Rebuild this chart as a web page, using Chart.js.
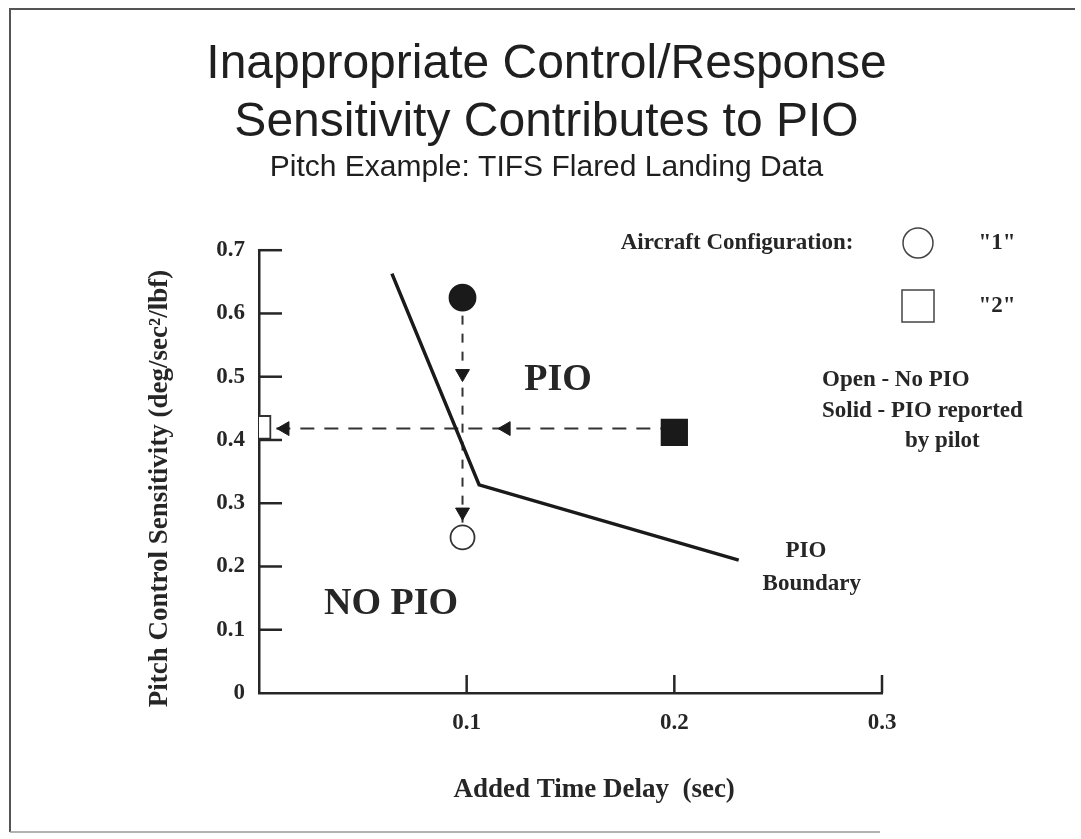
<!DOCTYPE html>
<html>
<head>
<meta charset="utf-8">
<script src="https://cdn.jsdelivr.net/npm/chart.js@4.4.0/dist/chart.umd.min.js"></script>
<style>
  html, body { margin: 0; padding: 0; background: #fff; }
  canvas { display: block; }
</style>
</head>
<body>
<canvas id="chart" width="1081" height="839"></canvas>
<script>
// PIO boundary line
var boundaryX = [0.064, 0.106, 0.231];
var boundaryY = [0.663, 0.329, 0.21];

// configuration "1" (circles): solid = PIO, open = no PIO
var config1X = [0.098, 0.098];
var config1Y = [0.625, 0.246];
// configuration "2" (squares)
var config2X = [0.2, 0.0];
var config2Y = [0.412, 0.42];

// arrows along the dashed paths
var arrowDownX = [0.098, 0.098];
var arrowDownY = [0.505, 0.286];
var arrowLeftX = [0.119, 0.0125];
var arrowLeftY = [0.418, 0.418];
var pathH_X = [0.2, 0.0];
var pathH_Y = [0.418, 0.418];

var xTickValues = [0.1, 0.2, 0.3];
var xTickLabels = ["0.1", "0.2", "0.3"];
var yTickValues = [0, 0.1, 0.2, 0.3, 0.4, 0.5, 0.6, 0.7];
var yTickLabels = ["0", "0.1", "0.2", "0.3", "0.4", "0.5", "0.6", "0.7"];

var serif = '"Liberation Serif", "Times New Roman", serif';
var sans = '"Liberation Sans", Arial, sans-serif';
var ink = "#262626";

function toPoints(xs, ys) {
  return xs.map(function(x, i) { return { x: x, y: ys[i] }; });
}

// frame round the slide
var framePlugin = {
  id: "frame",
  beforeDraw: function(chart) {
    var c = chart.ctx;
    c.save();
    c.fillStyle = "#fff";
    c.fillRect(0, 0, chart.width, chart.height);
    c.strokeStyle = "#555";
    c.lineWidth = 2;
    c.beginPath();
    c.moveTo(10, 832);
    c.lineTo(10, 9);
    c.lineTo(1075, 9);
    c.stroke();
    c.strokeStyle = "#999";
    c.lineWidth = 1.5;
    c.beginPath();
    c.moveTo(10, 832);
    c.lineTo(880, 832);
    c.stroke();
    c.restore();
  }
};

// tick marks pointing into the plot
var inwardTicks = {
  id: "inwardTicks",
  afterDatasetsDraw: function(chart) {
    var c = chart.ctx, xs = chart.scales.x, ys = chart.scales.y;
    c.save();
    c.strokeStyle = ink;
    c.lineWidth = 2.5;
    xTickValues.forEach(function(v) {
      var px = xs.getPixelForValue(v);
      c.beginPath();
      c.moveTo(px, ys.bottom);
      c.lineTo(px, ys.bottom - 18);
      c.stroke();
    });
    yTickValues.forEach(function(v) {
      if (v === 0) return;
      var py = ys.getPixelForValue(v);
      c.beginPath();
      c.moveTo(xs.left, py);
      c.lineTo(xs.left + 23, py);
      c.stroke();
    });
    c.restore();
  }
};

// region labels and the key on the right
var notes = {
  id: "notes",
  afterDraw: function(chart) {
    var c = chart.ctx, xs = chart.scales.x, ys = chart.scales.y;
    c.save();
    c.fillStyle = ink;
    c.textAlign = "center";
    c.textBaseline = "middle";
    var inPlot = [
      { text: "PIO", x: 0.144, y: 0.494, size: 38 },
      { text: "NO PIO", x: 0.0636, y: 0.141, size: 38 },
      { text: "PIO", x: 0.2634, y: 0.224, size: 23 },
      { text: "Boundary", x: 0.2662, y: 0.172, size: 23 }
    ];
    inPlot.forEach(function(a) {
      c.font = "bold " + a.size + "px " + serif;
      c.fillText(a.text, xs.getPixelForValue(a.x), ys.getPixelForValue(a.y));
    });

    c.font = "bold 23px " + serif;
    c.fillText("Aircraft Configuration:", 737, 243);
    c.fillText('"1"', 997, 243);
    c.fillText('"2"', 997, 306);
    c.textAlign = "left";
    c.fillText("Open - No PIO", 822, 380);
    c.fillText("Solid - PIO reported", 822, 411);
    c.fillText("by pilot", 905, 441);

    c.strokeStyle = "#444";
    c.lineWidth = 1.5;
    c.beginPath();
    c.arc(918, 243, 15, 0, Math.PI * 2);
    c.stroke();
    c.strokeRect(902, 290, 32, 32);
    c.restore();
  }
};

var myChartConfig = {
  type: "scatter",
  data: {
    datasets: [
      {
        label: "Config 1",
        data: toPoints(config1X, config1Y),
        pointStyle: "circle",
        pointRadius: [13, 12],
        backgroundColor: ["#1a1a1a", "#ffffff"],
        borderColor: ["#1a1a1a", "#333333"],
        borderWidth: 1.8,
        order: 0
      },
      {
        label: "Config 2",
        data: toPoints(config2X, config2Y),
        pointStyle: "rect",
        pointRadius: [18, 16],
        backgroundColor: ["#1a1a1a", "#ffffff"],
        borderColor: ["#1a1a1a", "#333333"],
        borderWidth: 1.8,
        clip: 0,
        order: 0
      },
      {
        label: "Arrow down",
        data: toPoints(arrowDownX, arrowDownY),
        pointStyle: "triangle",
        rotation: 180,
        pointRadius: 8,
        backgroundColor: "#1a1a1a",
        borderColor: "#1a1a1a",
        borderWidth: 1,
        order: 1
      },
      {
        label: "Arrow left",
        data: toPoints(arrowLeftX, arrowLeftY),
        pointStyle: "triangle",
        rotation: 270,
        pointRadius: 8,
        backgroundColor: "#1a1a1a",
        borderColor: "#1a1a1a",
        borderWidth: 1,
        order: 1
      },
      {
        label: "PIO Boundary",
        data: toPoints(boundaryX, boundaryY),
        showLine: true,
        borderColor: "#1a1a1a",
        borderWidth: 3.5,
        pointRadius: 0,
        order: 2
      },
      {
        label: "Config 1 path",
        data: toPoints(config1X, config1Y),
        showLine: true,
        borderColor: "#333",
        borderWidth: 2,
        borderDash: [9, 9],
        pointRadius: 0,
        order: 3
      },
      {
        label: "Config 2 path",
        data: toPoints(pathH_X, pathH_Y),
        showLine: true,
        borderColor: "#333",
        borderWidth: 2,
        borderDash: [14, 10],
        pointRadius: 0,
        order: 3
      }
    ]
  },
  options: {
    responsive: false,
    animation: false,
    events: [],
    layout: { padding: { left: 12, right: 0, top: 0, bottom: 30 } },
    plugins: {
      legend: { display: false },
      tooltip: { enabled: false },
      title: {
        display: true,
        text: ["Inappropriate Control/Response", "Sensitivity Contributes to PIO"],
        color: "#1f1f1f",
        font: { family: sans, size: 48, weight: "normal", lineHeight: 1.2 },
        padding: { top: 36, bottom: 0 }
      },
      subtitle: {
        display: true,
        text: "Pitch Example: TIFS Flared Landing Data",
        color: "#1f1f1f",
        font: { family: sans, size: 30, weight: "normal", lineHeight: 1.1 },
        padding: { top: 0, bottom: 66 }
      }
    },
    scales: {
      x: {
        type: "linear",
        min: 0,
        max: 0.3,
        afterBuildTicks: function(scale) {
          scale.ticks = xTickValues.map(function(v) { return { value: v }; });
        },
        afterFit: function(scale) { scale.height = 116; },
        ticks: {
          color: ink,
          font: { family: serif, size: 23, weight: "bold" },
          padding: 16,
          maxRotation: 0,
          callback: function(v) { return xTickLabels[xTickValues.indexOf(v)]; }
        },
        grid: { display: false, drawTicks: false, tickLength: 0 },
        border: { display: true, color: ink, width: 2.5 },
        title: {
          display: true,
          text: "       Added Time Delay  (sec)",
          color: ink,
          font: { family: serif, size: 27, weight: "bold", lineHeight: 1.2 },
          padding: { top: 0, bottom: 3 }
        }
      },
      y: {
        type: "linear",
        min: 0,
        max: 0.7,
        afterBuildTicks: function(scale) {
          scale.ticks = yTickValues.map(function(v) { return { value: v }; });
        },
        afterFit: function(scale) { scale.width = 247; },
        ticks: {
          color: ink,
          font: { family: serif, size: 23, weight: "bold" },
          padding: 14,
          callback: function(v) { return yTickLabels[yTickValues.indexOf(v)]; }
        },
        grid: { display: false, drawTicks: false, tickLength: 0 },
        border: { display: true, color: ink, width: 2.5 },
        title: {
          display: true,
          text: "Pitch Control Sensitivity (deg/sec\u00b2/lbf)     ",
          color: ink,
          font: { family: serif, size: 27, weight: "bold", lineHeight: 1.2 },
          padding: { top: 132, bottom: 0 }
        }
      },
      // empty axis on the right that keeps the key area free
      yRight: {
        type: "linear",
        position: "right",
        display: true,
        afterFit: function(scale) { scale.width = 199; },
        ticks: { display: false },
        grid: { display: false, drawTicks: false },
        border: { display: false }
      }
    }
  },
  plugins: [framePlugin, inwardTicks, notes]
};

new Chart(document.getElementById("chart"), myChartConfig);
</script>
</body>
</html>
